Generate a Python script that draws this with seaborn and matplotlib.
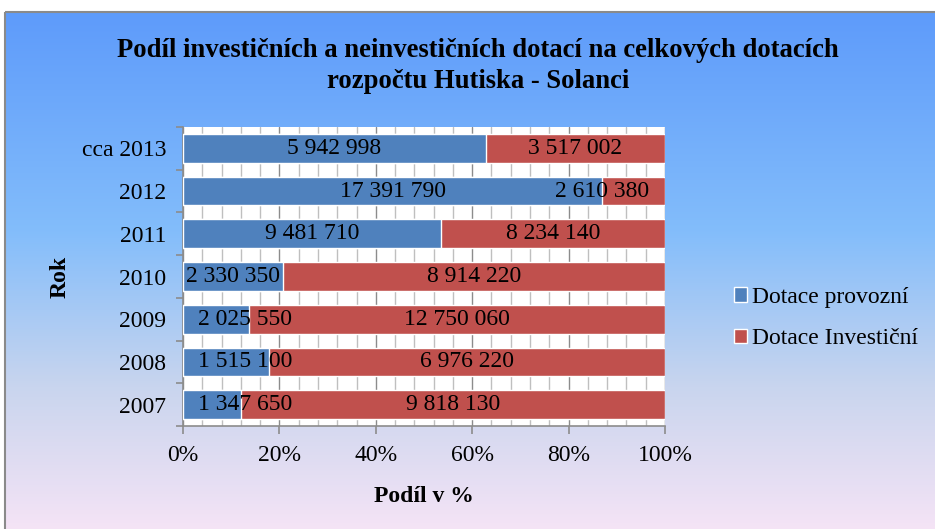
import numpy as np
import pandas as pd
import matplotlib
matplotlib.use("Agg")
import matplotlib.pyplot as plt
from matplotlib.colors import LinearSegmentedColormap
from matplotlib.patches import Rectangle
from matplotlib.ticker import MultipleLocator, PercentFormatter
import seaborn as sns

# ---- data ----
years = ["cca 2013", "2012", "2011", "2010", "2009", "2008", "2007"]
provozni = [5942998, 17391790, 9481710, 2330350, 2025550, 1515100, 1347650]
investicni = [3517002, 2610380, 8234140, 8914220, 12750060, 6976220, 9818130]
series_names = ["Dotace provozní", "Dotace Investiční"]
title = "Podíl investičních a neinvestičních dotací na celkových dotacích\nrozpočtu Hutiska - Solanci"
xlabel = "Podíl v %"
ylabel = "Rok"

sns.set_theme(style="white")
plt.rcParams["font.family"] = ["Liberation Serif", "DejaVu Serif"]
plt.rcParams["text.color"] = "black"
plt.rcParams["axes.labelcolor"] = "black"
plt.rcParams["xtick.color"] = "black"
plt.rcParams["ytick.color"] = "black"

BLUE = "#4f81bd"
RED = "#c0504d"

df = pd.DataFrame({"Rok": years, "prov": provozni, "inv": investicni})
df["total"] = df["prov"] + df["inv"]
df["prov_pct"] = df["prov"] / df["total"] * 100
df["full"] = 100.0

W, H = 935, 529
fig = plt.figure(figsize=(W / 100, H / 100), dpi=100)
fig.patch.set_facecolor("white")

# background gradient chart area
bg = fig.add_axes([0, 0, 1, 1], zorder=-10)
cmap = LinearSegmentedColormap.from_list(
    "bg", [(0.0, "#5e9bfa"), (0.42, "#83bdfb"), (0.72, "#c9d5ee"), (1.0, "#f6e4f6")])
grad = np.linspace(0, 1, 256)[:, None]
bg.imshow(grad, cmap=cmap, aspect="auto", extent=(5, W + 5, H + 5, 12), zorder=0)
bg.add_patch(Rectangle((5, 12), W + 10, H + 10, fill=False, edgecolor="#8a8a8a", lw=1.5, zorder=1))
bg.set_xlim(0, W)
bg.set_ylim(H, 0)
bg.axis("off")

# main axes
ax = fig.add_axes([183 / W, 1 - 426 / H, (665 - 183) / W, (426 - 127) / H])
ax.set_facecolor("white")

sns.barplot(data=df, x="full", y="Rok", order=years, color=RED, width=0.67,
            orient="h", ax=ax, saturation=1, label=series_names[1], zorder=3)
sns.barplot(data=df, x="prov_pct", y="Rok", order=years, color=BLUE, width=0.67,
            orient="h", ax=ax, saturation=1, label=series_names[0], zorder=4)
if ax.get_legend() is not None:
    ax.get_legend().remove()

ax.set_xlim(0, 100)
ax.set_ylim(len(years) - 0.5, -0.5)

# grid
ax.xaxis.set_major_locator(MultipleLocator(20))
ax.xaxis.set_minor_locator(MultipleLocator(4))
ax.xaxis.set_major_formatter(PercentFormatter(decimals=0))
ax.grid(True, axis="x", which="major", color="#8c8c8c", lw=1.0, zorder=0)
ax.grid(True, axis="x", which="minor", color="#bfbfbf", lw=1.0, zorder=0)
ax.set_axisbelow(True)

for s in ["top", "right"]:
    ax.spines[s].set_visible(False)
for s in ["left", "bottom"]:
    ax.spines[s].set_color("#8c8c8c")
    ax.spines[s].set_linewidth(1.2)

# y ticks at category boundaries
ax.set_yticks(np.arange(len(years)))
ax.set_yticklabels(years)
ax.set_yticks(np.arange(len(years) + 1) - 0.5, minor=True)
ax.tick_params(axis="y", which="major", length=0, labelsize=17, pad=12)
ax.tick_params(axis="y", which="minor", length=5, color="#8c8c8c", width=1.2, left=True)
ax.tick_params(axis="x", which="major", length=6, color="#8c8c8c", width=1.2,
               labelsize=17, pad=8, bottom=True)
ax.tick_params(axis="x", which="minor", length=0)

ax.set_xlabel(xlabel, fontsize=17, fontweight="bold", labelpad=14)
ax.set_ylabel(ylabel, fontsize=17, fontweight="bold", labelpad=8)

def fmt(v):
    return f"{v:,}".replace(",", " ")

fig.canvas.draw()
renderer = fig.canvas.get_renderer()
ax_bb = ax.get_window_extent(renderer)
inv_t = ax.transData.inverted()
for i, row in df.iterrows():
    p = row["prov_pct"]
    for val, cx in [(row["prov"], p / 2), (row["inv"], p + (100 - p) / 2)]:
        t = ax.text(cx, i, fmt(int(val)), ha="center", va="center", fontsize=17,
                    color="black", zorder=6)
        bb = t.get_window_extent(renderer)
        shift = 0.0
        if bb.x1 > ax_bb.x1 - 16:
            shift = -(bb.x1 - (ax_bb.x1 - 16))
        elif bb.x0 < ax_bb.x0 - 1:
            shift = (ax_bb.x0 + 15) - bb.x0
        if shift:
            x_disp = ax.transData.transform((cx, i))[0] + shift
            t.set_x(inv_t.transform((x_disp, 0))[0])

# legend
handles, labels = ax.get_legend_handles_labels()
order = [labels.index(n) for n in series_names]
fig.legend([handles[k] for k in order], [labels[k] for k in order],
           loc="center left", bbox_to_anchor=(713 / W, 1 - 318 / H),
           frameon=False, fontsize=17, handlelength=0.55, handleheight=0.55,
           handletextpad=0.2, labelspacing=0.85)

fig.suptitle(title, x=478 / W, y=1 - 38 / H, fontsize=19.2,
             fontweight="bold", va="top", linespacing=1.32, color="black")

fig.savefig("out.png", dpi=100)
